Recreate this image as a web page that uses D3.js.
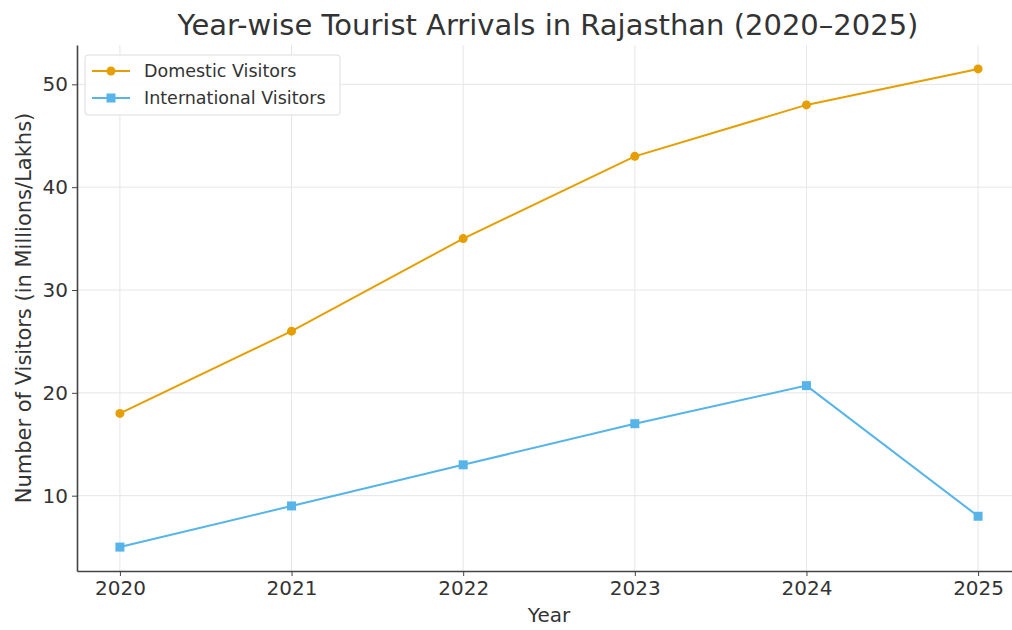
<!DOCTYPE html>
<html lang="en">
<head>
  <meta charset="UTF-8"/>
  <title>Year-wise Tourist Arrivals in Rajasthan</title>
  <script src="https://d3js.org/d3.v7.min.js"></script>
  <style>
    body { margin: 0; background: #fff; }
    text { font-family: "DejaVu Sans", sans-serif; fill: #333; }
  </style>
</head>
<body>
<svg id="chart" width="1012" height="630"></svg>
<script>
  const years = [2020, 2021, 2022, 2023, 2024, 2025];
  const domestic = [18, 26, 35, 43, 48, 51.5];
  const international = [5, 9, 13, 17, 20.7, 8];
  const yTicks = [10, 20, 30, 40, 50];

  const svg = d3.select('#chart');
  const plotLeft = 77, plotRight = 1021, plotTop = 45, plotBottom = 571;

  // matplotlib-like 5% margins
  const x = d3.scaleLinear().domain([2019.75, 2025.25]).range([plotLeft, plotRight]);
  const y = d3.scaleLinear().domain([2.675, 53.825]).range([plotBottom, plotTop]);

  // grid
  svg.append('g').selectAll('line').data(years).enter().append('line')
    .attr('x1', d => x(d)).attr('x2', d => x(d))
    .attr('y1', plotTop).attr('y2', plotBottom)
    .attr('stroke', '#e6e6e6').attr('stroke-width', 1);
  svg.append('g').selectAll('line').data(yTicks).enter().append('line')
    .attr('x1', plotLeft).attr('x2', plotRight)
    .attr('y1', d => y(d)).attr('y2', d => y(d))
    .attr('stroke', '#e6e6e6').attr('stroke-width', 1);

  // axes
  const xAxis = svg.append('g')
    .attr('transform', `translate(0, ${plotBottom})`)
    .call(d3.axisBottom(x).tickValues(years).tickFormat(d3.format('d')).tickSize(5).tickSizeOuter(0));
  const yAxis = svg.append('g')
    .attr('transform', `translate(${plotLeft}, 0)`)
    .call(d3.axisLeft(y).tickValues(yTicks).tickSize(5).tickSizeOuter(0));
  [xAxis, yAxis].forEach(a => {
    a.select('.domain').attr('stroke', '#444').attr('stroke-width', 1.6);
    a.selectAll('.tick line').attr('stroke', '#444').attr('stroke-width', 1);
    a.selectAll('text').style('font-size', '20px').attr('fill', '#333');
  });
  xAxis.selectAll('text').attr('dy', '0.8em');
  yAxis.selectAll('text').attr('dx', '-0.05em');

  const series = [
    { name: 'Domestic Visitors', values: domestic, color: '#E69F00', shape: 'circle' },
    { name: 'International Visitors', values: international, color: '#56B4E9', shape: 'square' }
  ];

  const line = d3.line().x((d, i) => x(years[i])).y(d => y(d));

  series.forEach(s => {
    svg.append('path')
      .datum(s.values)
      .attr('d', line)
      .attr('fill', 'none')
      .attr('stroke', s.color)
      .attr('stroke-width', 2);
    if (s.shape === 'circle') {
      svg.append('g').selectAll('circle').data(s.values).enter().append('circle')
        .attr('cx', (d, i) => x(years[i])).attr('cy', d => y(d))
        .attr('r', 4.5).attr('fill', s.color);
    } else {
      svg.append('g').selectAll('rect').data(s.values).enter().append('rect')
        .attr('x', (d, i) => x(years[i]) - 4.5).attr('y', d => y(d) - 4.5)
        .attr('width', 9).attr('height', 9).attr('fill', s.color);
    }
  });

  // legend
  const lg = svg.append('g').attr('transform', 'translate(85, 55)');
  lg.append('rect').attr('width', 255).attr('height', 60).attr('rx', 3)
    .attr('fill', '#fff').attr('fill-opacity', 0.85)
    .attr('stroke', '#ddd');
  series.forEach((s, i) => {
    const cy = 16 + i * 27;
    lg.append('line').attr('x1', 7).attr('x2', 45).attr('y1', cy).attr('y2', cy)
      .attr('stroke', s.color).attr('stroke-width', 2);
    if (s.shape === 'circle') {
      lg.append('circle').attr('cx', 26).attr('cy', cy).attr('r', 4.5).attr('fill', s.color);
    } else {
      lg.append('rect').attr('x', 21.5).attr('y', cy - 4.5).attr('width', 9).attr('height', 9).attr('fill', s.color);
    }
    lg.append('text').attr('x', 59).attr('y', cy).attr('dy', '0.35em')
      .style('font-size', '17.5px').text(s.name);
  });

  // titles
  svg.append('text')
    .attr('x', 548).attr('y', 35)
    .attr('text-anchor', 'middle')
    .style('font-size', '29px')
    .text('Year-wise Tourist Arrivals in Rajasthan (2020–2025)');

  svg.append('text')
    .attr('x', 549).attr('y', 622)
    .attr('text-anchor', 'middle')
    .style('font-size', '20px')
    .text('Year');

  svg.append('text')
    .attr('transform', `translate(31, 308) rotate(-90)`)
    .attr('text-anchor', 'middle')
    .style('font-size', '21px')
    .text('Number of Visitors (in Millions/Lakhs)');
</script>
</body>
</html>
